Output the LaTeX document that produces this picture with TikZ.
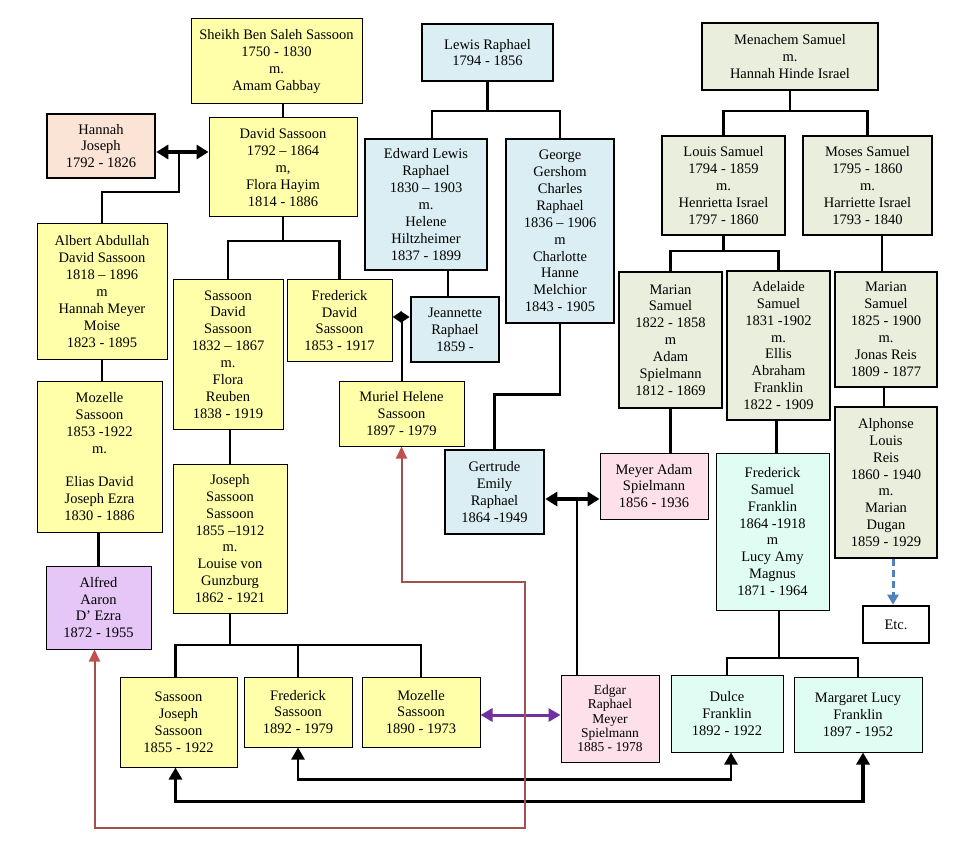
\documentclass[tikz,border=0pt]{standalone}
\usepackage{fontspec}
\setmainfont{Liberation Serif}
\usetikzlibrary{arrows.meta}
\definecolor{sasyellow}{HTML}{FFFFAA}
\definecolor{rafblue}{HTML}{DAEEF3}
\definecolor{samgrey}{HTML}{EAEEDC}
\definecolor{peach}{HTML}{FBE3D6}
\definecolor{spielpink}{HTML}{FDE0EA}
\definecolor{frankmint}{HTML}{E0FDF3}
\definecolor{ezralilac}{HTML}{E6C5F7}
\definecolor{wedpurple}{HTML}{7030A0}
\definecolor{etcblue}{HTML}{4F81BD}
\definecolor{lineblood}{HTML}{A0524F}
\definecolor{tipblood}{HTML}{C0504D}
\begin{document}
\begin{tikzpicture}[x=1pt,y=-1pt,
    person/.style={draw,align=center,inner sep=0pt,font=\fontsize{14.5}{16.9}\selectfont},
    yelbox/.style={person,fill=sasyellow,line width=1pt},
    bluebox/.style={person,fill=rafblue,line width=2.6pt},
    greybox/.style={person,fill=samgrey,line width=2.6pt},
    pinkbox/.style={person,fill=spielpink,line width=1pt},
    mintbox/.style={person,fill=frankmint,line width=1pt},
    link/.style={line width=2.6pt},
    wed/.style={line width=3.6pt,{Triangle[length=12pt,width=14pt]}-{Triangle[length=12pt,width=14pt]}},
    cousin/.style={line width=2.6pt,{Triangle[length=12pt,width=13pt]}-{Triangle[length=12pt,width=13pt]}},
]
\useasboundingbox (0,0) rectangle (960,858);

% Sassoon line
\node[yelbox,minimum width=171,minimum height=85] (sheikh) at (276.5,61.5) {Sheikh Ben Saleh Sassoon\\1750 - 1830\\m.\\Amam Gabbay};
\node[person,fill=peach,line width=2.6pt,minimum width=108,minimum height=64] (hannah) at (101,146) {Hannah\\Joseph\\1792 - 1826};
\node[yelbox,minimum width=148,minimum height=99] (david) at (283,167.5) {David Sassoon\\1792 – 1864\\m,\\Flora Hayim\\1814 - 1886};
\node[yelbox,minimum width=130,minimum height=135] (albert) at (102,291.5) {Albert Abdullah\\David Sassoon\\1818 – 1896\\m\\Hannah Meyer\\Moise\\1823 - 1895};
\node[yelbox,minimum width=110,minimum height=149] (sds) at (228,354.5) {Sassoon\\David\\Sassoon\\1832 – 1867\\m.\\Flora\\Reuben\\1838 - 1919};
\node[yelbox,minimum width=105,minimum height=81] (fds) at (339.5,320.5) {Frederick\\David\\Sassoon\\1853 - 1917};
\node[yelbox,minimum width=125,minimum height=151] (mozelle) at (99.5,456.5) {Mozelle\\Sassoon\\1853 -1922\\m.\\[16.9pt]Elias David\\Joseph Ezra\\1830 - 1886};
\node[person,fill=ezralilac,line width=1pt,minimum width=105,minimum height=83] (alfred) at (98.5,607.5) {Alfred\\Aaron\\D’ Ezra\\1872 - 1955};
\node[yelbox,minimum width=114,minimum height=149] (joseph) at (230,538.5) {Joseph\\Sassoon\\Sassoon\\1855 –1912\\m.\\Louise von\\Gunzburg\\1862 - 1921};
\node[yelbox,minimum width=125,minimum height=65] (muriel) at (401.5,413.5) {Muriel Helene\\Sassoon\\1897 - 1979};
\node[yelbox,minimum width=117,minimum height=90] (sjs) at (178.5,722) {Sassoon\\Joseph\\Sassoon\\1855 - 1922};
\node[yelbox,minimum width=108,minimum height=70] (fs) at (298,712) {Frederick\\Sassoon\\1892 - 1979};
\node[yelbox,minimum width=118,minimum height=70] (ms) at (421,712) {Mozelle\\Sassoon\\1890 - 1973};

% Raphael line
\node[bluebox,minimum width=131,minimum height=57] (lewis) at (487.5,52.5) {Lewis Raphael\\1794 - 1856};
\node[bluebox,minimum width=122,minimum height=131] (edward) at (426,204.5) {Edward Lewis\\Raphael\\1830 – 1903\\m.\\Helene\\Hiltzheimer\\1837 - 1899};
\node[bluebox,minimum width=108,minimum height=184] (george) at (560,231) {George\\Gershom\\Charles\\Raphael\\1836 – 1906\\m\\Charlotte\\Hanne\\Melchior\\1843 - 1905};
\node[bluebox,minimum width=88,minimum height=65] (jeannette) at (455,329.5) {Jeannette\\Raphael\\1859 -};
\node[bluebox,minimum width=99,minimum height=84] (gertrude) at (494.5,492) {Gertrude\\Emily\\Raphael\\1864 -1949};

% Samuel line
\node[greybox,minimum width=176,minimum height=67] (menachem) at (790,56.5) {Menachem Samuel\\m.\\Hannah Hinde Israel};
\node[greybox,minimum width=123,minimum height=99] (louis) at (723.5,185.5) {Louis Samuel\\1794 - 1859\\m.\\Henrietta Israel\\1797 - 1860};
\node[greybox,minimum width=129,minimum height=99] (moses) at (867.5,185.5) {Moses Samuel\\1795 - 1860\\m.\\Harriette Israel\\1793 - 1840};
\node[greybox,minimum width=103,minimum height=136] (marian) at (670.5,340) {Marian\\Samuel\\1822 - 1858\\m\\Adam\\Spielmann\\1812 - 1869};
\node[greybox,minimum width=103,minimum height=149] (adelaide) at (778.5,345.5) {Adelaide\\Samuel\\1831 -1902\\m.\\Ellis\\Abraham\\Franklin\\1822 - 1909};
\node[greybox,minimum width=102,minimum height=115] (mreis) at (886,329.5) {Marian\\Samuel\\1825 - 1900\\m.\\Jonas Reis\\1809 - 1877};
\node[greybox,minimum width=102,minimum height=151] (alphonse) at (886,482.5) {Alphonse\\Louis\\Reis\\1860 - 1940\\m.\\Marian\\Dugan\\1859 - 1929};
\node[person,line width=2.6pt,minimum width=66,minimum height=37] (etc) at (896,624.5) {Etc.};

% Spielmann and Franklin
\node[pinkbox,minimum width=108,minimum height=66] (meyer) at (654,486) {Meyer Adam\\Spielmann\\1856 - 1936};
\node[pinkbox,minimum width=98,minimum height=87,font=\fontsize{13.5}{14.3}\selectfont] (edgar) at (610,718.5) {Edgar\\Raphael\\Meyer\\Spielmann\\1885 - 1978};
\node[mintbox,minimum width=113,minimum height=157] (fsf) at (772.5,531.5) {Frederick\\Samuel\\Franklin\\1864 -1918\\m\\Lucy Amy\\Magnus\\1871 - 1964};
\node[mintbox,minimum width=112,minimum height=77] (dulce) at (727,713.5) {Dulce\\Franklin\\1892 - 1922};
\node[mintbox,minimum width=128,minimum height=75] (margaret) at (858,714.5) {Margaret Lucy\\Franklin\\1897 - 1952};

% junctions
\coordinate (hd) at (179,152);
\coordinate (dfork) at (283,241);
\coordinate (lfork) at (487.5,111);
\coordinate (mfork) at (790,111);
\coordinate (lsfork) at (723.5,251);
\coordinate (fj) at (402,317);
\coordinate (gm) at (577,499);
\coordinate (jfork) at (230,645);
\coordinate (ffork) at (779,658);
\coordinate (rturn) at (525,582);

% descent lines
\draw[link] (david.north |- sheikh.south) -- (david.north);
\draw[wed] (hd -| hannah.east) -- (hd -| david.west);
\draw[link] (hd) -- ++(0,40) -| (albert.north);
\draw[link] (david.south) -- (dfork);
\draw[link] (sds.north) |- (dfork) -| (fds.north);
\draw[link] (albert.south) -- (albert.south |- mozelle.north);
\draw[link] (alfred.north |- mozelle.south) -- (alfred.north);
\draw[link] (joseph.north |- sds.south) -- (joseph.north);
\draw[link] (joseph.south) -- (jfork);
\draw[link] ([xshift=-3]sjs.north) |- (jfork) -| (ms.north);
\draw[link] (fs.north) -- (fs.north |- jfork);

\draw[link] (lewis.south) -- (lfork);
\draw[link] ([xshift=6]edward.north) |- (lfork) -| (george.north);
\draw[link] ([xshift=-7]jeannette.north |- edward.south) -- ([xshift=-7]jeannette.north);
\draw[link,{Triangle[length=9pt,width=11pt]}-{Triangle[length=9pt,width=11pt]}] (fj -| fds.east) -- (fj -| jeannette.west);
\draw[link] (fj) -- (fj |- muriel.north);
\draw[link] (george.south) -- ++(0,70) -| (gertrude.north);
\draw[wed] (gm -| gertrude.east) -- (gm -| meyer.west);
\draw[link] (gm) -- (gm |- edgar.north);

\draw[link] (menachem.south) -- (mfork);
\draw[link] (louis.north) |- (mfork) -| (moses.north);
\draw[link] (louis.south) -- (lsfork);
\draw[link] (marian.north) |- (lsfork) -| (adelaide.north);
\draw[link] ([xshift=-4]mreis.north |- moses.south) -- ([xshift=-4]mreis.north);
\draw[link] ([xshift=-2]alphonse.north |- mreis.south) -- ([xshift=-2]alphonse.north);
\draw[etcblue,line width=3pt,dash pattern=on 7pt off 4pt,-{Triangle[length=10pt,width=11pt]}] ([xshift=-3]etc.north |- alphonse.south) -- ([xshift=-3]etc.north);
\draw[link] (marian.south) -- (marian.south |- meyer.north);
\draw[link] ([xshift=-2]adelaide.south) -- ([xshift=-2]adelaide.south |- fsf.north);
\draw[link] (fsf.south -| ffork) -- (ffork);
\draw[link] (dulce.north) |- (ffork) -| (margaret.north);

% cousin marriages
\draw[wedpurple,line width=3pt,{Triangle[length=12pt,width=13pt]}-{Triangle[length=12pt,width=13pt]}] (ms.east |- 0,715) -- (edgar.west |- 0,715);
\draw[cousin] (fs.south) -- ++(0,32) -| ([xshift=4]dulce.south);
\draw[cousin,line width=3.4pt] ([xshift=-3]sjs.south) -- ++(0,34) -| ([xshift=5]margaret.south);
\draw[lineblood,line width=2pt,{Triangle[length=12pt,width=11pt,color=tipblood]}-{Triangle[length=12pt,width=11pt,color=tipblood]}] (muriel.south) |- (rturn) -- (rturn |- 0,828) -| ([xshift=-4]alfred.south);
\end{tikzpicture}
\end{document}
